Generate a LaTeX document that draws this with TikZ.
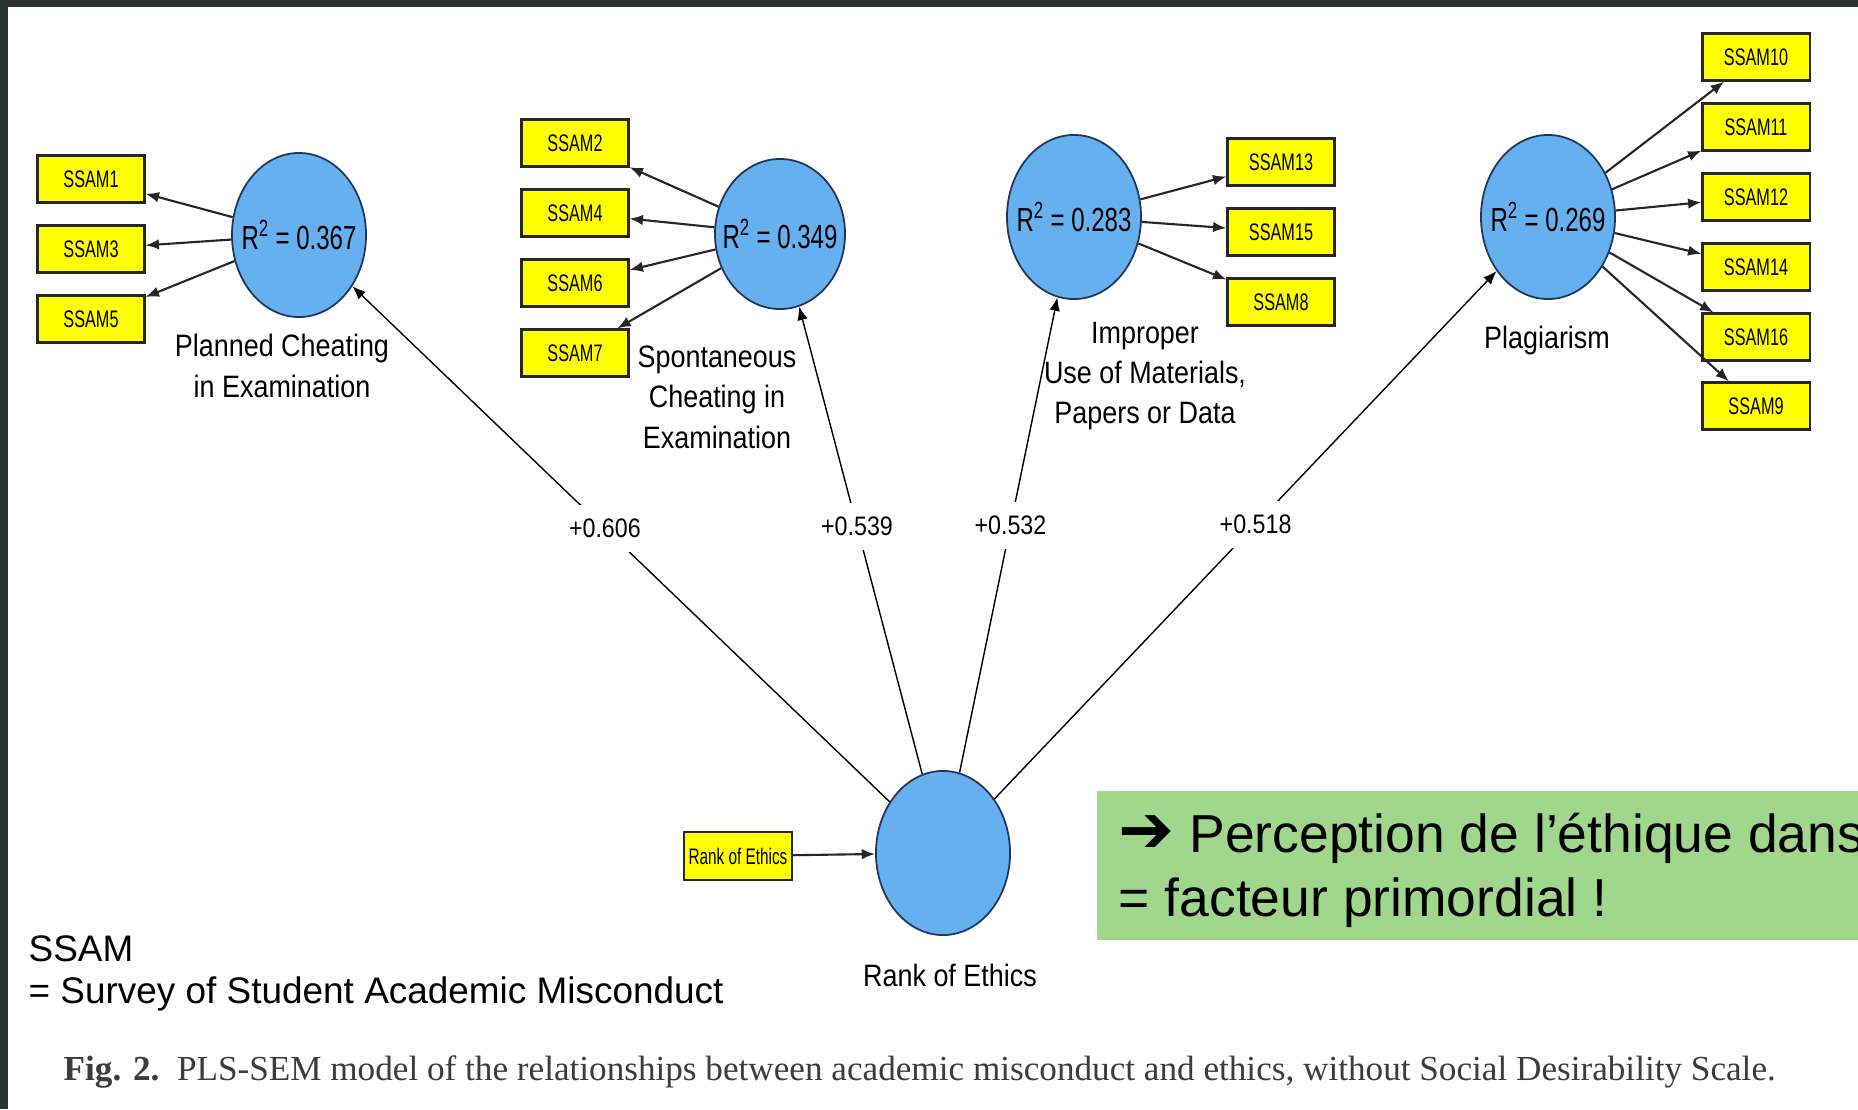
\documentclass[tikz,border=0pt]{standalone}
\usepackage{fontspec}
\setmainfont{Liberation Sans}
\newfontfamily\semfont[FakeStretch=0.87]{Liberation Sans}
\newfontfamily\rfont[FakeStretch=0.72]{Liberation Sans}
\newfontfamily\boxfont[FakeStretch=0.68]{Liberation Sans}
\newfontfamily\capfont{Liberation Serif}
\newfontfamily\arrowfont{DejaVu Sans}
\usetikzlibrary{arrows.meta, shapes.geometric}
\definecolor{framedark}{RGB}{40,52,48}
\definecolor{latentblue}{RGB}{102,176,240}
\definecolor{latentedge}{RGB}{30,55,90}
\definecolor{itemyellow}{RGB}{255,255,0}
\definecolor{notegreen}{RGB}{161,214,141}
\definecolor{captiongray}{RGB}{60,60,60}

\begin{document}
\begin{tikzpicture}[x = 0.01cm, y = -0.01cm,
    latent/.style = {shape = ellipse, draw = latentedge, line width = 0.5pt, fill = latentblue,
        minimum width = 1.34cm, minimum height = 1.64cm, inner sep = 0pt},
    rsq/.style = {inner sep = 0pt, font = \rfont\fontsize{9.5}{11}\selectfont},
    item/.style = {shape = rectangle, draw = black!85, line width = 0.6pt, fill = itemyellow,
        minimum width = 1.07cm, minimum height = 0.47cm, inner sep = 0pt,
        font = \boxfont\fontsize{6.8}{8}\selectfont},
    construct/.style = {align = center, inner sep = 0pt, font = \semfont\fontsize{8.8}{11.5}\selectfont},
    load/.style = {-{Latex[length = 3.8pt, width = 3pt]}, line width = 0.6pt, draw = black!85},
    effect/.style = {-{Latex[length = 3.8pt, width = 3pt]}, line width = 0.4pt},
    coef/.style = {fill = white, inner sep = 4pt, font = \semfont\fontsize{7.6}{9}\selectfont}]

    \useasboundingbox (0,0) rectangle (1858,1109);
    \fill[white] (0,0) rectangle (1858,1109);
    \fill[framedark] (0,0) rectangle (1858,7);
    \fill[framedark] (0,0) rectangle (8,1109);

    % latent variables
    \node[latent, label = {[rsq]center:R\textsuperscript{2}\,= 0.367}] (planned) at (299,235) {};
    \node[latent, minimum width = 1.30cm, minimum height = 1.50cm,
        label = {[rsq]center:R\textsuperscript{2}\,= 0.349}] (spont) at (780,234) {};
    \node[latent, label = {[rsq]center:R\textsuperscript{2}\,= 0.283}] (improper) at (1074,217) {};
    \node[latent, label = {[rsq]center:R\textsuperscript{2}\,= 0.269}] (plagiarism) at (1548,217) {};
    \node[latent] (ethics) at (943,853) {};

    \node[construct] (plannedname) at (282,366) {Planned Cheating\\in Examination};
    \node[construct] (spontname) at (717,397) {Spontaneous\\Cheating in\\Examination};
    \node[construct] (impropername) at (1145,376) {Improper\\Use of Materials,\\Papers or Data};
    \node[construct] (plagiarismname) at (1547,340) {Plagiarism};
    \node[construct] (ethicsname) at (950,975) {Rank of Ethics};

    % indicators
    \foreach \n/\y in {1/179, 3/249, 5/319} {
        \node[item] (ssam\n) at (91,\y) {SSAM\n};
        \draw[load] (planned) -- (ssam\n);
    }
    \foreach \n/\y in {2/143, 4/213, 6/283, 7/353} {
        \node[item] (ssam\n) at (575,\y) {SSAM\n};
        \draw[load] (spont) -- (ssam\n);
    }
    \foreach \n/\y in {13/162, 15/232, 8/302} {
        \node[item] (ssam\n) at (1281,\y) {SSAM\n};
        \draw[load] (improper) -- (ssam\n);
    }
    \foreach \n/\y in {10/57, 11/127, 12/197, 14/267, 16/337, 9/406} {
        \node[item] (ssam\n) at (1756,\y) {SSAM\n};
        \draw[load] (plagiarism) -- (ssam\n);
    }
    \node[item, minimum width = 1.08cm, minimum height = 0.48cm,
        font = \boxfont\fontsize{6.4}{8}\selectfont] (rankbox) at (738,856) {Rank of Ethics};
    \draw[load] (rankbox) -- (ethics);

    % paths
    \draw[effect] (ethics) -- node[coef, pos = 0.53] {+0.606} (planned);
    \draw[effect] (ethics) -- node[coef, pos = 0.53] {+0.539} (spont);
    \draw[effect] (ethics) -- node[coef, pos = 0.52] {+0.532} (improper);
    \draw[effect] (ethics) -- node[coef, pos = 0.52] {+0.518} (plagiarism);

    \node[anchor = base west, align = left, inner sep = 0pt,
        font = \fontsize{10.5}{11.7}\selectfont] (legend) at (28,1003)
        {SSAM\\= Survey of Student Academic Misconduct};

    \fill[notegreen] (1097,791) rectangle (1870,940);
    \node[anchor = base west, align = left, inner sep = 0pt,
        font = \fontsize{15.2}{18}\selectfont] (note) at (1118,916)
        {{\arrowfont\fontsize{19}{18}\selectfont ➔}\ Perception de l’éthique dans\\= facteur primordial !};

    \node[anchor = base west, inner sep = 0pt, text = captiongray,
        font = \capfont\fontsize{10}{12}\selectfont] (caption) at (63,1080)
        {\textbf{Fig. 2.}\ \ PLS-SEM model of the relationships between academic misconduct and ethics, without Social Desirability Scale.};
\end{tikzpicture}
\end{document}
